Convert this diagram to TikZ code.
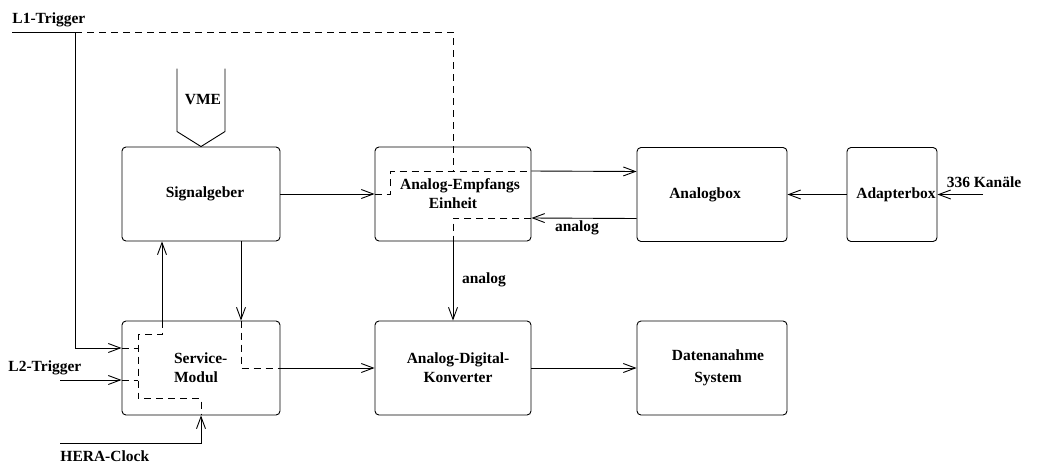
\documentclass[tikz,border=0pt]{standalone}
\usepackage{fontspec}
\setmainfont{Liberation Serif}
\usepackage{tikz}
\usetikzlibrary{positioning,arrows.meta,calc}

\begin{document}
\begin{tikzpicture}[x=1pt,y=-1pt,line width=0.9pt,
  font=\bfseries\fontsize{15.5}{19}\selectfont,
  box/.style={rectangle,rounded corners=4pt,draw,align=center,inner sep=0pt,minimum height=94pt},
  arr/.style={-{Straight Barb[length=12pt,width=9pt]}},
  dsh/.style={dash pattern=on 7pt off 5pt},
  lbl/.style={inner sep=0pt}]
  \useasboundingbox (0,0) rectangle (1048,464);
  % upper row
  \node[box,minimum width=158pt] (sg)    at (201,194)   {\hspace*{8pt}Signalgeber};
  \node[box,minimum width=156pt] (aee)   at (453,194)   {\hspace*{14pt}Analog-Empfangs\\Einheit};
  \node[box,minimum width=150pt] (abox)  at (712,194.5) {Analogbox\hspace*{14pt}};
  \node[box,minimum width=90pt]  (adbox) at (892,194.5) {\hspace*{8pt}Adapterbox};
  % lower row
  \node[box,minimum width=158pt,align=left] (sm) at (201,368) {Service-\\Modul\hspace*{10pt}};
  \node[box,minimum width=156pt] (adc)   at (453,368)   {\hspace*{10pt}Analog-Digital-\\\hspace*{10pt}Konverter};
  \node[box,minimum width=150pt] (daq)   at (712,368)   {\hspace*{12pt}Datenanahme\\[3pt]\hspace*{12pt}System};
  % free ends
  \coordinate (l1s) at (12,32);
  \coordinate (l1k) at (75,32);
  \coordinate (l2s) at (60,380);
  \coordinate (hcs) at (60,443);
  \coordinate (kin) at (983,194.5);
  % texts
  \node[lbl,anchor=west] (l1t) at (12,20)  {L1-Trigger};
  \node[lbl,anchor=west] (l2t) at (8,368)  {L2-Trigger};
  \node[lbl,anchor=west] (hct) at (60,456) {HERA-Clock};
  \node[lbl] (kt)  at (984,182) {336 Kanäle};
  \node[lbl] (vme) at (203,100) {VME};
  \node[lbl] (an1) at (484,280) {analog};
  \node[lbl] (an2) at (577,228) {analog};
  % VME bus
  \draw (sg.north) -- ++(-24,-15) -- ++(0,-63);
  \draw (sg.north) -- ++(24,-15) -- ++(0,-63);
  % trigger and clock
  \draw (l1s) -- (l1k);
  \draw[arr] (l1k) |- ([yshift=20pt]sm.west);
  \draw[dsh] (l1k) -| ([yshift=23pt]aee.center);
  \draw[arr] (l2s) -- ([yshift=-12pt]sm.west);
  \draw[arr] (hcs) -| (sm.south);
  \draw[dsh] ([yshift=20pt]sm.west) -- ++(16,0);
  \draw[dsh] ([yshift=-12pt]sm.west) -- ++(16,0);
  % service module
  \draw[arr] ([xshift=-39pt]sm.north) -- ([xshift=-39pt]sg.south);
  \draw[arr] ([xshift=40pt]sg.south) -- ([xshift=40pt]sm.north);
  \draw[dsh] ([xshift=-39pt]sm.north) |- ++(-24,14) |- ++(63,64) -- (sm.south);
  \draw[dsh] ([xshift=40pt]sm.north) |- (sm.east);
  \draw[arr] (sm) -- (adc);
  % analog chain
  \draw[arr] (sg) -- (aee);
  \draw[dsh] (aee.west) -- ++(16,0) |- ([yshift=23pt]aee.east);
  \draw[arr] ([yshift=23pt]aee.east) -- ([yshift=23pt]abox.west);
  \draw[arr] ([yshift=-24pt]abox.west) -- ([yshift=-24pt]aee.east);
  \draw[dsh] ([yshift=-24pt]aee.east) -| (aee.south);
  \draw[arr] (aee) -- (adc);
  \draw[arr] (adbox) -- (abox);
  \draw[arr] (kin) -- (adbox.east);
  \draw[arr] (adc) -- (daq);
\end{tikzpicture}
\end{document}
